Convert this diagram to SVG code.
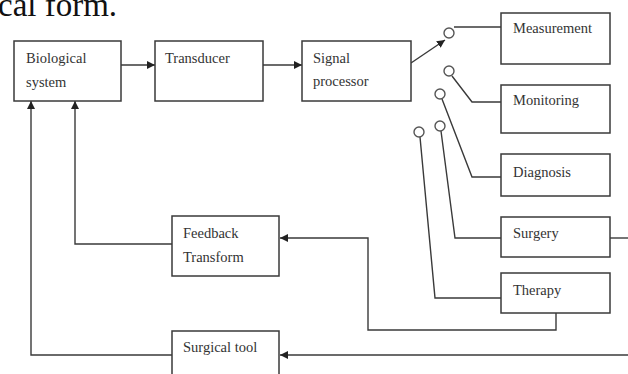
<svg xmlns="http://www.w3.org/2000/svg" width="628" height="374" viewBox="0 0 628 374">
<style>
.box{fill:#fff;stroke:#3a3a3a;stroke-width:1.5}
.ln{fill:none;stroke:#3a3a3a;stroke-width:1.4}
.t{font-family:"Liberation Serif","Times New Roman",serif;font-size:14.5px;fill:#333}
.sw{fill:#fff;stroke:#555;stroke-width:1.4}
</style>
<defs>
<marker id="ah" viewBox="0 0 10 10" refX="10" refY="5" markerWidth="8" markerHeight="8" markerUnits="userSpaceOnUse" orient="auto">
<path d="M0,0 L10,5 L0,10 z" fill="#222"/>
</marker>
</defs>
<rect width="628" height="374" fill="#fff"/>
<text x="-2" y="16" font-family="Liberation Serif, serif" font-size="33" fill="#111">cal form.</text>
<g id="connectors">
<line class="ln" x1="121" y1="65" x2="155" y2="65" marker-end="url(#ah)"/>
<line class="ln" x1="263" y1="65" x2="302" y2="65" marker-end="url(#ah)"/>
<line class="ln" x1="411" y1="63" x2="445" y2="40" marker-end="url(#ah)"/>
<polyline class="ln" points="454,27 501,27"/>
<polyline class="ln" points="452,76 472,102 501,102"/>
<polyline class="ln" points="442,99 472,177 501,177"/>
<polyline class="ln" points="441,131 455,238 501,238"/>
<polyline class="ln" points="420,137 435,298 501,298"/>
<line class="ln" x1="610" y1="238" x2="628" y2="238"/>
<polyline class="ln" points="556,313 556,330 368,330 368,238 280,238" marker-end="url(#ah)"/>
<polyline class="ln" points="172,244 75,244 75,101" marker-end="url(#ah)"/>
<line class="ln" x1="628" y1="355" x2="280" y2="355" marker-end="url(#ah)"/>
<polyline class="ln" points="172,355 31,355 31,101" marker-end="url(#ah)"/>
<circle class="sw" cx="449" cy="33" r="5"/>
<circle class="sw" cx="449" cy="71" r="5"/>
<circle class="sw" cx="440" cy="94" r="5"/>
<circle class="sw" cx="440" cy="126" r="5"/>
<circle class="sw" cx="419" cy="132" r="5"/>
</g>
<g id="bio"><rect class="box" x="14" y="41" width="107" height="60"/><text class="t" x="26" y="63">Biological</text><text class="t" x="26" y="87">system</text></g>
<g id="transducer"><rect class="box" x="155" y="41" width="108" height="60"/><text class="t" x="165" y="63">Transducer</text></g>
<g id="signal"><rect class="box" x="302" y="41" width="109" height="60"/><text class="t" x="313" y="63">Signal</text><text class="t" x="313" y="86">processor</text></g>
<g id="measurement"><rect class="box" x="501" y="13" width="109" height="51"/><text class="t" x="513" y="33">Measurement</text></g>
<g id="monitoring"><rect class="box" x="501" y="85" width="109" height="48"/><text class="t" x="513" y="105">Monitoring</text></g>
<g id="diagnosis"><rect class="box" x="501" y="154" width="109" height="42"/><text class="t" x="513" y="177">Diagnosis</text></g>
<g id="surgery"><rect class="box" x="501" y="217" width="109" height="40"/><text class="t" x="513" y="238">Surgery</text></g>
<g id="therapy"><rect class="box" x="501" y="273" width="109" height="40"/><text class="t" x="513" y="295">Therapy</text></g>
<g id="feedback"><rect class="box" x="172" y="216" width="107" height="60"/><text class="t" x="183" y="238">Feedback</text><text class="t" x="183" y="262">Transform</text></g>
<g id="surgical"><rect class="box" x="172" y="331" width="107" height="60"/><text class="t" x="183" y="352">Surgical tool</text></g>
</svg>
